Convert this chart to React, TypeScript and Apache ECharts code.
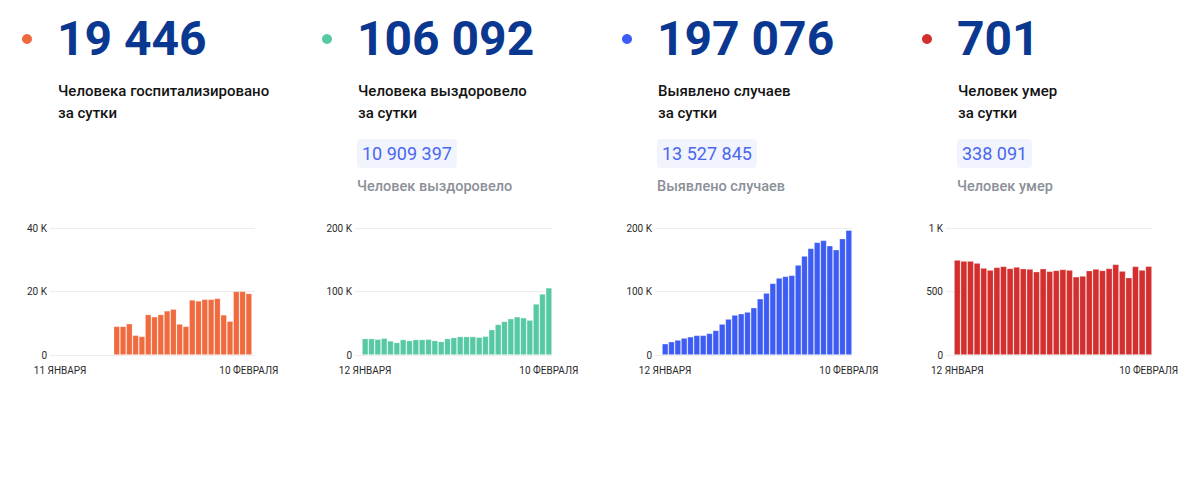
import React, { useEffect, useRef } from "react";
import * as echarts from "echarts";

// ---- data ----
function dayLabels(startJan: number): string[] {
  const out: string[] = [];
  for (let d = startJan; d <= 31; d++) out.push(`${d} ЯНВАРЯ`);
  for (let d = 1; d <= 10; d++) out.push(`${d} ФЕВРАЛЯ`);
  return out;
}
const datesHosp = dayLabels(11);
const datesOther = dayLabels(12);

const hospitalized = [
  null, null, null, null, null, null, null, null, null,
  9060, 9060, 9900, 6250, 5900, 12800, 12100, 12800, 13960, 14500, 9800, 9060,
  17400, 17100, 17600, 17600, 17900, 12700, 10700, 20100, 20100, 19446,
];
const recovered = [
  26000, 26000, 25000, 26600, 22400, 19800, 24500, 22900, 24500, 24500, 25000, 22900,
  21400, 26000, 27600, 29200, 29200, 29200, 28100, 29700, 40100, 48400, 53100, 57300,
  60400, 58900, 55200, 80700, 96400, 106092,
];
const cases = [
  17900, 21100, 23700, 26800, 28900, 31100, 31100, 34200, 38900, 48900, 56800, 63200,
  65300, 67900, 74700, 88900, 97900, 113200, 121600, 124200, 125800, 142100, 156300,
  168400, 177900, 181100, 172600, 166300, 183700, 197076,
];
const deaths = [
  750, 742, 742, 726, 687, 671, 692, 700, 684, 695, 682, 679, 658, 682, 661, 668, 676,
  671, 618, 624, 666, 679, 668, 684, 716, 663, 611, 700, 671, 701,
];

const bigNumbers = ["19 446", "106 092", "197 076", "701"];
const titleLine1 = ["Человека госпитализировано", "Человека выздоровело", "Выявлено случаев", "Человек умер"];
const titleLine2 = ["за сутки", "за сутки", "за сутки", "за сутки"];
const totals = [null, "10 909 397", "13 527 845", "338 091"];
const totalLabels = [null, "Человек выздоровело", "Выявлено случаев", "Человек умер"];
const yMax = [40000, 200000, 200000, 1000];
const yInterval = [20000, 100000, 100000, 500];
const seriesData = [hospitalized, recovered, cases, deaths];
const seriesDates = [datesHosp, datesOther, datesOther, datesOther];

// ---- layout / style ----
const colors = ["#EF6A3F", "#56C9A4", "#3C5CF3", "#D22F2E"];
const panelX = [0, 300, 600, 900];
const gridLineLeft = [50, 355, 655, 946];
const gridLineRight = [255, 552, 852, 1152];
const barLeft = [57, 362, 662, 954];
const barRight = [252, 552, 852, 1152];
const GRID_TOP = 228.3;
const GRID_BOTTOM = 480 - 355;
const W = 1193;
const H = 480;
const FONT = "Roboto, 'Noto Sans', sans-serif";
const NAVY = "#0A3890";

function yFmt(v: number) {
  return v >= 1000 ? `${v / 1000} K` : `${v}`;
}

export default function App() {
  const ref = useRef<HTMLDivElement>(null);
  useEffect(() => {
    if (!ref.current) return;
    const chart = echarts.init(ref.current, undefined, { renderer: "svg" });
    const grid: any[] = [];
    const xAxis: any[] = [];
    const yAxis: any[] = [];
    const series: any[] = [];
    const graphic: any[] = [];

    for (let i = 0; i < 4; i++) {
      grid.push({
        left: gridLineLeft[i],
        width: gridLineRight[i] - gridLineLeft[i],
        top: GRID_TOP,
        bottom: GRID_BOTTOM,
        outerBoundsMode: "none",
      });
      grid.push({
        left: barLeft[i],
        width: barRight[i] - barLeft[i],
        top: GRID_TOP,
        bottom: GRID_BOTTOM,
        outerBoundsMode: "none",
      });
      const gA = i * 2;
      const gB = i * 2 + 1;
      xAxis.push({ gridIndex: gA, type: "category", data: seriesDates[i], show: false });
      const last = seriesDates[i].length - 1;
      xAxis.push({
        gridIndex: gB,
        type: "category",
        data: seriesDates[i],
        axisLine: { show: false },
        axisTick: { show: false },
        axisLabel: {
          interval: (idx: number) => idx === 0 || idx === last,
          fontSize: 10,
          color: "#2a2a2a",
          fontFamily: FONT,
          margin: 10,
          hideOverlap: false,
        },
      });
      yAxis.push({
        gridIndex: gA,
        type: "value",
        min: 0,
        max: yMax[i],
        interval: yInterval[i],
        axisLine: { show: false },
        axisTick: { show: false },
        splitLine: { lineStyle: { color: "#ECECEC", width: 1 } },
        axisLabel: { fontSize: 10, color: "#2a2a2a", fontFamily: FONT, margin: 3, formatter: yFmt },
      });
      yAxis.push({
        gridIndex: gB,
        type: "value",
        min: 0,
        max: yMax[i],
        interval: yInterval[i],
        show: false,
        splitLine: { show: false },
      });
      series.push({
        type: "bar",
        xAxisIndex: gB,
        yAxisIndex: gB,
        data: seriesData[i],
        barCategoryGap: "0%",
        itemStyle: {
          color: colors[i],
          borderColor: "rgba(255,255,255,0.3)",
          borderWidth: 0.8,
        },
        emphasis: { disabled: true },
      });

      const px = panelX[i];
      graphic.push({
        type: "circle",
        shape: { cx: px + 27, cy: 39, r: 5 },
        style: { fill: colors[i] },
      });
      graphic.push({
        type: "text",
        x: px + 57,
        y: 38,
        style: {
          text: bigNumbers[i],
          fill: NAVY,
          fontSize: 48,
          fontWeight: "bold",
          fontFamily: FONT,
          verticalAlign: "middle",
        },
      });
      graphic.push({
        type: "text",
        x: px + 58,
        y: 91,
        style: {
          text: titleLine1[i],
          fill: "#141414",
          fontSize: 15,
          fontWeight: 500,
          fontFamily: FONT,
          verticalAlign: "middle",
        },
      });
      graphic.push({
        type: "text",
        x: px + 58,
        y: 112.5,
        style: {
          text: titleLine2[i],
          fill: "#141414",
          fontSize: 15,
          fontWeight: 500,
          fontFamily: FONT,
          verticalAlign: "middle",
        },
      });
      if (totals[i]) {
        graphic.push({
          type: "text",
          x: px + 57,
          y: 139,
          style: {
            text: totals[i],
            fill: "#4967EE",
            fontSize: 18,
            lineHeight: 19,
            fontFamily: FONT,
            verticalAlign: "top",
            backgroundColor: "#F1F4FD",
            padding: [5, 5, 5, 5],
            borderRadius: 4,
          },
        });
        graphic.push({
          type: "text",
          x: px + 57,
          y: 186,
          style: {
            text: totalLabels[i],
            fill: "#8B9099",
            fontSize: 14.5,
            fontWeight: 500,
            fontFamily: FONT,
            verticalAlign: "middle",
          },
        });
      }
    }

    chart.setOption({
      animation: false,
      backgroundColor: "#ffffff",
      grid,
      xAxis,
      yAxis,
      series,
      graphic,
    });
    return () => chart.dispose();
  }, []);
  return (
    <div
      ref={ref}
      style={{ position: "fixed", left: 0, top: 0, width: W, height: H }}
    />
  );
}
